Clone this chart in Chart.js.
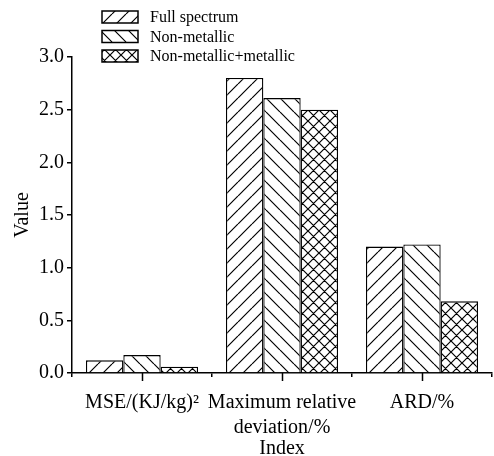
<!DOCTYPE html>
<html>
<head>
<meta charset="utf-8">
<script src="https://cdn.jsdelivr.net/npm/chart.js@4.4.1/dist/chart.umd.min.js"></script>
<style>
  html, body { margin: 0; padding: 0; background: #fff; }
  canvas { display: block; }
</style>
</head>
<body>
<canvas id="chart" width="494" height="456"></canvas>
<script>
// data
var categories = [["MSE/(KJ/kg)\u00B2"], ["Maximum relative", "deviation/%"], ["ARD/%"]];
var seriesNames = ["Full spectrum", "Non-metallic", "Non-metallic+metallic"];
var fullSpectrum = [0.12, 2.80, 1.20];
var nonMetallic = [0.17, 2.61, 1.22];
var nonMetallicMetallic = [0.06, 2.50, 0.68];
var yTicks = [0, 0.5, 1.0, 1.5, 2.0, 2.5, 3.0];

var serif = "'Liberation Serif', 'Times New Roman', serif";

// hatch fills: '/' , '\' and 'x'
function hatch(kind, size) {
  var c = document.createElement('canvas');
  c.width = c.height = size;
  var g = c.getContext('2d');
  g.fillStyle = '#fff';
  g.fillRect(0, 0, size, size);
  g.strokeStyle = '#000';
  g.lineWidth = 1.2;
  g.beginPath();
  for (var k = -1; k <= 1; k++) {
    var x0 = k * size;
    if (kind == '/' || kind == 'x') {
      g.moveTo(x0, size); g.lineTo(x0 + size, 0);
    }
    if (kind == '\\' || kind == 'x') {
      g.moveTo(x0, 0); g.lineTo(x0 + size, size);
    }
  }
  g.stroke();
  return g.createPattern(c, 'repeat');
}

var fills = [hatch('/', 14), hatch('\\', 14), hatch('x', 11)];
var values = [fullSpectrum, nonMetallic, nonMetallicMetallic];

// legend drawn by hand, stacked at top left
var hatchLegend = {
  id: 'hatchLegend',
  afterDraw: function (chart) {
    var ctx = chart.ctx;
    ctx.save();
    chart.data.datasets.forEach(function (ds, i) {
      var y = 17 + i * 19.5;
      ctx.fillStyle = ds.backgroundColor;
      ctx.fillRect(102, y - 6, 36, 12);
      ctx.strokeStyle = '#000';
      ctx.lineWidth = 1.5;
      ctx.strokeRect(102, y - 6, 36, 12);
      ctx.fillStyle = '#000';
      ctx.font = '16px ' + serif;
      ctx.textBaseline = 'middle';
      ctx.fillText(ds.label, 150, y + 1);
    });
    ctx.restore();
  }
};

// longer ticks at the category centres
var centreTicks = {
  id: 'centreTicks',
  afterDraw: function (chart) {
    var ctx = chart.ctx, xs = chart.scales.x, y0 = chart.chartArea.bottom;
    ctx.save();
    ctx.strokeStyle = '#000';
    ctx.lineWidth = 1.5;
    ctx.beginPath();
    for (var i = 0; i < categories.length; i++) {
      var x = Math.round(xs.getPixelForValue(i)) + 0.5;
      ctx.moveTo(x, y0);
      ctx.lineTo(x, y0 + 8);
    }
    ctx.stroke();
    ctx.restore();
  }
};

var datasets = seriesNames.map(function (name, i) {
  return {
    label: name,
    data: values[i],
    backgroundColor: fills[i],
    borderColor: '#000',
    borderWidth: 1.3,
    barPercentage: 1.0,
    categoryPercentage: 0.8
  };
});

new Chart(document.getElementById('chart'), {
  type: 'bar',
  data: { labels: categories, datasets: datasets },
  plugins: [hatchLegend, centreTicks],
  options: {
    responsive: false,
    animation: false,
    layout: { padding: { top: 57, right: 2, left: 11, bottom: 0 } },
    plugins: { legend: { display: false }, tooltip: { enabled: false } },
    scales: {
      x: {
        offset: true,
        grid: { offset: true, drawOnChartArea: false, tickLength: 4, color: '#000', lineWidth: 1.5 },
        border: { color: '#000', width: 1.5 },
        ticks: { color: '#000', font: { family: serif, size: 20, lineHeight: 1.25 }, padding: 13, maxRotation: 0, autoSkip: false },
        title: { display: true, text: 'Index', color: '#000', font: { family: serif, size: 20, lineHeight: 0.7 }, padding: { top: 0, bottom: 0 } },
        afterFit: function (s) { s.height = 83; }
      },
      y: {
        min: 0,
        max: 3,
        afterBuildTicks: function (s) { s.ticks = yTicks.map(function (v) { return { value: v }; }); },
        grid: { drawOnChartArea: false, tickLength: 5, color: '#000', lineWidth: 1.5 },
        border: { color: '#000', width: 1.5 },
        ticks: { color: '#000', font: { family: serif, size: 20 }, padding: 3,
          callback: function (v) { return v.toFixed(1); } },
        title: { display: true, text: 'Value', color: '#000', font: { family: serif, size: 20 }, padding: 0 },
        afterFit: function (s) { s.width = 61; }
      }
    }
  }
});
</script>
</body>
</html>
